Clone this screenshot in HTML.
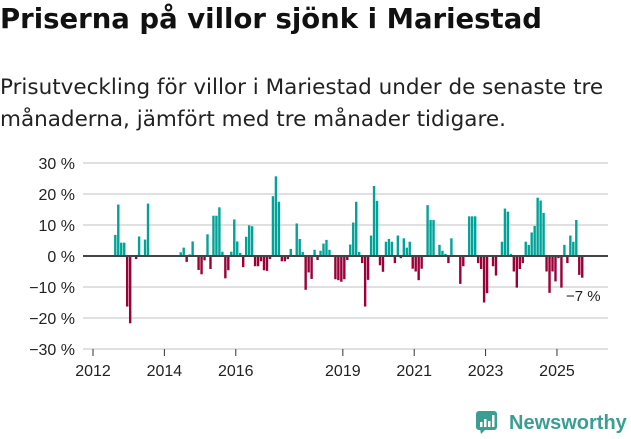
<!DOCTYPE html>
<html><head><meta charset="utf-8"><style>
body{margin:0;width:631px;height:439px;background:#fff;font-family:"Liberation Sans","DejaVu Sans",sans-serif;overflow:hidden;position:relative}
#title{position:absolute;left:0;top:3px;font-size:27.5px;font-weight:bold;color:#111;margin:0;font-family:"DejaVu Sans",sans-serif;letter-spacing:0px;white-space:nowrap}
#sub{position:absolute;left:0;top:72px;font-size:21.5px;line-height:32px;color:#222;width:640px;font-family:"DejaVu Sans",sans-serif;letter-spacing:0px}
svg{position:absolute;left:0;top:0}
</style></head><body>
<h1 id="title">Priserna på villor sjönk i Mariestad</h1>
<div id="sub">Prisutveckling för villor i Mariestad under de senaste tre<br>månaderna, jämfört med tre månader tidigare.</div>
<svg id="chart" width="631" height="439"></svg>
<svg width="631" height="439" style="pointer-events:none">
<rect x="476" y="411" width="21" height="19" rx="3" fill="#3a9e92"/>
<polygon points="480,429 486,429 481,434" fill="#3a9e92"/>
<rect x="480" y="422" width="2.5" height="5" fill="#fff"/><rect x="484" y="419" width="2.5" height="8" fill="#fff"/><rect x="488" y="421" width="2.5" height="6" fill="#fff"/><rect x="492" y="415" width="2.5" height="12" fill="#fff"/>
<text x="509" y="429" font-size="20" font-weight="bold" fill="#3a9e92" font-family="Liberation Sans, sans-serif">Newsworthy</text>
</svg>
<script>
const startMonth = 7; // months after Jan 2012
const values = [6.8,16.6,4.3,4.3,-16.3,-21.7,null,-1,6.3,null,5.3,16.9,
null,null,null,null,null,null,null,null,null,null,
1.2,2.7,-1.9,0.5,4.7,null,-4.5,-5.9,-1.4,7,-4.2,13,13,15.7,1.4,-7.2,-4.6,1.4,11.8,4.7,1,-3.6,6.2,9.9,9.6,-3.3,-3.3,-1.7,
-4.6,-4.8,-1,19.3,25.7,17.5,-1.7,-1.7,-1,2.3,null,10.5,5.5,1.3,-10.9,-5.3,-7.4,2,-1.3,1.7,4,5.2,2,null,-7.5,-7.8,-8.3,-7.5,-1.3,3.7,10.8,17.5,1.3,-2.3,-16.3,-7.7,6.6,22.6,17.8,-3,-5.1,4.6,5.5,4.6,-2.3,6.6,-0.7,5.7,2.7,4.6,-4.1,-5,-7.8,
-4.1,null,16.4,11.6,11.6,null,3.6,1.7,0.7,-2.3,5.7,null,null,-9,-3.3,null,12.8,12.8,12.8,-2.3,-4.2,-15,-12,null,-3.3,-6.3,null,4.6,15.3,14.3,0.7,-5,-10.2,-4.2,-2.3,4.6,3.6,7.6,9.7,18.8,17.9,13.9,-5,-11.9,-5,-8.2,-0.7,-10.2,3.6,-2.3,6.6,4.6,11.6,-6.1,-7];
const yTicks = [30,20,10,0,-10,-20,-30];
const xTicks = [2012,2014,2016,2019,2021,2023,2025];
const lastLabel = "−7 %";

const NS="http://www.w3.org/2000/svg";
const svg=document.getElementById('chart');
const y=v=>256-v*3.1;
const x=t=>93+(t-2012)*35.69;
function mk(tag,attrs){const e=document.createElementNS(NS,tag);for(const k in attrs)e.setAttribute(k,attrs[k]);svg.appendChild(e);return e;}
yTicks.forEach(v=>{
  if(v!==0){const g=mk('line',{x1:83,x2:608,y1:y(v),y2:y(v),stroke:'#e0e0e0','stroke-width':2});
  
  }
  const t=mk('text',{x:75,y:y(v)+6,'text-anchor':'end','font-size':16,fill:'#222'});
  t.textContent=(v<0?'−'+(-v):v)+' %';
  
  
});
values.forEach((v,i)=>{
  if(v===null)return;
  const cx=x(2012+(startMonth+i+0.5)/12);
  const r=mk('rect',{x:cx-1.2,width:2.4,y:Math.min(y(v),256),height:Math.abs(y(v)-256),fill:v>=0?'#00a398':'#9b0039'});
  
  
});
const z=mk('line',{x1:83,x2:608,y1:256,y2:256,stroke:'#444','stroke-width':2});


const ax=mk('line',{x1:83,x2:608,y1:349,y2:349,stroke:'#e0e0e0','stroke-width':2});


xTicks.forEach(t=>{
  const l=mk('line',{x1:x(t),x2:x(t),y1:349,y2:356,stroke:'#333','stroke-width':1});
  
  
  const tx=mk('text',{x:x(t),y:376,'text-anchor':'middle','font-size':16,fill:'#222'});
  tx.textContent=t;
  
  
});
const lab=mk('text',{x:566,y:301,'font-size':15,fill:'#222'});
lab.textContent=lastLabel;


</script>
</body></html>
